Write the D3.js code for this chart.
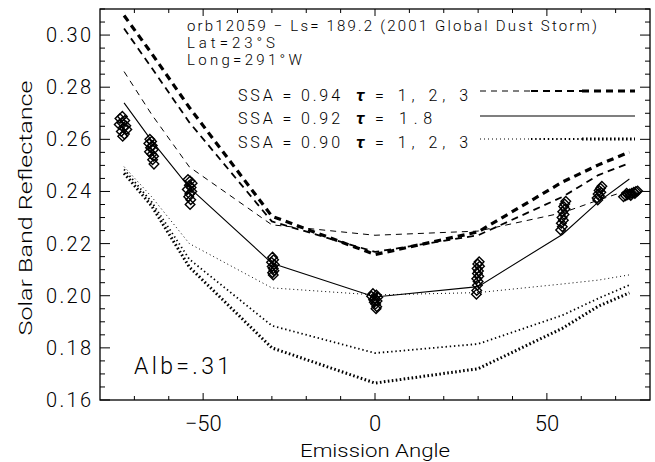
<!DOCTYPE html>
<html>
<head>
<meta charset="utf-8">
<script src="https://cdn.jsdelivr.net/npm/d3@7"></script>
<style>
  html, body { margin: 0; padding: 0; background: #fff; }
  svg { display: block; }
  text { font-family: Roboto, "DejaVu Sans", sans-serif; font-weight: 300; fill: #000; }
</style>
</head>
<body>
<svg id="chart" width="655" height="462"></svg>
<script>
// Emission angles at which the model curves are evaluated
const modelAngles = [-73, -65, -54, -30, 0, 30, 54.5, 65, 74];

// SSA = 0.94, tau = 1, 2, 3 (dashed, increasing weight)
const ssa94Tau1 = [0.2860, 0.2696, 0.2494, 0.2272, 0.2232, 0.2248, 0.2318, 0.2367, 0.2406];
const ssa94Tau2 = [0.3025, 0.2875, 0.2665, 0.2285, 0.2168, 0.2232, 0.2379, 0.2463, 0.2509];
const ssa94Tau3 = [0.3075, 0.2930, 0.2722, 0.2305, 0.2158, 0.2245, 0.2436, 0.2502, 0.2551];

// SSA = 0.92, tau = 1.8 (solid)
const ssa92Tau18 = [0.2740, 0.2595, 0.2415, 0.2125, 0.1995, 0.2035, 0.2235, 0.2360, 0.2448];

// SSA = 0.90, tau = 1, 2, 3 (dotted, increasing weight)
const ssa90Tau1 = [0.2495, 0.2380, 0.2200, 0.2030, 0.2003, 0.2012, 0.2045, 0.2060, 0.2080];
const ssa90Tau2 = [0.2485, 0.2360, 0.2140, 0.1885, 0.1780, 0.1815, 0.1925, 0.1990, 0.2041];
const ssa90Tau3 = [0.2470, 0.2345, 0.2110, 0.1800, 0.1665, 0.1720, 0.1875, 0.1960, 0.2011];

// Observed reflectances: emission angle and value
const obsAngle = [
  -73.5, -74.2, -72.8, -73.6, -74.4, -72.5, -73.2, -72.2, -73.8, -72.9, -73.4,
  -65.5, -65.0, -65.8, -64.8, -65.3, -64.5, -65.6, -64.9, -64.4, -64.7, -64.3,
  -54.4, -53.8, -53.2, -54.0, -53.5, -54.6, -53.3, -53.9, -54.2, -53.6, -53.8,
  -29.8, -29.5, -30.1, -29.3, -29.9, -29.6, -29.4, -29.8, -29.6,
  -0.6, 0.4, -1.0, 0.8, 0.0, -0.4, 0.6, -0.2, 0.2, 0.5, 0.3,
  30.3, 29.9, 30.4, 29.7, 30.1, 29.8, 30.2, 29.6, 30.0, 29.8, 29.6, 29.5,
  55.5, 55.2, 54.9, 55.3, 54.6, 55.0, 54.4, 54.8, 54.2, 54.5, 54.0,
  66.0, 65.6, 65.2, 65.7, 64.9, 65.3, 64.6, 64.8,
  72.3, 72.9, 73.5, 74.1, 74.7, 75.3, 75.9, 76.4, 73.2, 74.4, 75.6
];
const obsValue = [
  0.2688, 0.2680, 0.2672, 0.2664, 0.2657, 0.2652, 0.2645, 0.2638, 0.2630, 0.2620, 0.2612,
  0.2600, 0.2592, 0.2584, 0.2576, 0.2568, 0.2560, 0.2552, 0.2543, 0.2535, 0.2522, 0.2505,
  0.2446, 0.2440, 0.2432, 0.2424, 0.2415, 0.2408, 0.2400, 0.2390, 0.2380, 0.2368, 0.2350,
  0.2148, 0.2138, 0.2128, 0.2120, 0.2112, 0.2104, 0.2096, 0.2088, 0.2080,
  0.2008, 0.2003, 0.1998, 0.1994, 0.1990, 0.1985, 0.1980, 0.1975, 0.1968, 0.1958, 0.1950,
  0.2130, 0.2122, 0.2113, 0.2104, 0.2095, 0.2085, 0.2075, 0.2065, 0.2055, 0.2040, 0.2020, 0.2006,
  0.2362, 0.2352, 0.2342, 0.2333, 0.2322, 0.2312, 0.2300, 0.2290, 0.2278, 0.2265, 0.2252,
  0.2420, 0.2412, 0.2404, 0.2397, 0.2390, 0.2383, 0.2375, 0.2367,
  0.2380, 0.2384, 0.2388, 0.2390, 0.2393, 0.2397, 0.2400, 0.2402, 0.2393, 0.2385, 0.2392
];

// Axis ticks
const xMajorTicks = [-50, 0, 50];
const xMinorTicks = d3.range(-70, 80, 10);
const yMajorTicks = [0.16, 0.18, 0.20, 0.22, 0.24, 0.26, 0.28, 0.30];
const yMinorTicks = d3.range(0.16, 0.3101, 0.005);

// Header and legend text
const headerLines = ["orb12059 \u2212 Ls= 189.2 (2001 Global Dust Storm)", "Lat=23\u00b0S", "Long=291\u00b0W"];
const headerWidths = [410, 88, 115];
const legendSsa = ["SSA = 0.94", "SSA = 0.92", "SSA = 0.90"];
const legendTau = ["= 1, 2, 3", "= 1.8", "= 1, 2, 3"];
const legendTauWidths = [93, 57, 93];
const albedoLabel = "Alb=.31";

const svg = d3.select("#chart");
const W = 655, H = 462;
const mLeft = 100, mRight = 650, mTop = 9, mBottom = 400;

const x = d3.scaleLinear().domain([-80, 80]).range([mLeft, mRight]);
const y = d3.scaleLinear().domain([0.16, 0.31]).range([mBottom, mTop]);

svg.append("rect").attr("width", W).attr("height", H).attr("fill", "#fff");

const plot = svg.append("g");
plot.append("clipPath").attr("id", "clip")
  .append("rect").attr("x", mLeft).attr("y", mTop).attr("width", mRight - mLeft).attr("height", mBottom - mTop);

const line = d3.line().x((d, i) => x(modelAngles[i])).y(d => y(d));

const curves = [
  { v: ssa94Tau1, w: 1.0, dash: "6,5" },
  { v: ssa94Tau2, w: 1.8, dash: "7,5" },
  { v: ssa94Tau3, w: 3.2, dash: "7,5" },
  { v: ssa92Tau18, w: 1.1, dash: null },
  { v: ssa90Tau1, w: 1.0, dash: "1,3" },
  { v: ssa90Tau2, w: 1.8, dash: "1.4,2.8" },
  { v: ssa90Tau3, w: 3.0, dash: "1.6,2.4" }
];

const cg = plot.append("g").attr("clip-path", "url(#clip)");
curves.forEach(c => {
  cg.append("path")
    .attr("d", line(c.v))
    .attr("fill", "none")
    .attr("stroke", "#000")
    .attr("stroke-width", c.w)
    .attr("stroke-dasharray", c.dash);
});

// Observations drawn as open diamonds
const dg = plot.append("g");
obsAngle.forEach((a, i) => {
  const cx = x(a), cy = y(obsValue[i]), r = 4.8;
  dg.append("path")
    .attr("d", `M${cx},${cy - r}L${cx + r},${cy}L${cx},${cy + r}L${cx - r},${cy}Z`)
    .attr("fill", "none")
    .attr("stroke", "#000")
    .attr("stroke-width", 1.4);
});

// Axes: ticks point inward on all four sides
const axes = svg.append("g").attr("stroke", "#000").attr("fill", "none");
axes.append("rect").attr("x", mLeft).attr("y", mTop).attr("width", mRight - mLeft).attr("height", mBottom - mTop).attr("stroke-width", 1.3);

xMinorTicks.forEach(t => {
  const len = xMajorTicks.includes(t) ? 7 : 4;
  axes.append("line").attr("x1", x(t)).attr("x2", x(t)).attr("y1", mBottom).attr("y2", mBottom - len);
  axes.append("line").attr("x1", x(t)).attr("x2", x(t)).attr("y1", mTop).attr("y2", mTop + len);
});
yMinorTicks.forEach(t => {
  const major = yMajorTicks.some(m => Math.abs(m - t) < 1e-6);
  const len = major ? 10 : 5;
  axes.append("line").attr("y1", y(t)).attr("y2", y(t)).attr("x1", mLeft).attr("x2", mLeft + len);
  axes.append("line").attr("y1", y(t)).attr("y2", y(t)).attr("x1", mRight).attr("x2", mRight - len);
});

// Tick labels
svg.append("g").selectAll("text").data(xMajorTicks).join("text")
  .attr("x", d => x(d)).attr("y", 431)
  .attr("text-anchor", "middle").attr("font-size", 22)
  .text(d => d < 0 ? "\u2212" + Math.abs(d) : d);

svg.append("g").selectAll("text").data(yMajorTicks).join("text")
  .attr("x", 91).attr("y", d => y(d) + 7)
  .attr("text-anchor", "end").attr("font-size", 20)
  .attr("textLength", 45).attr("lengthAdjust", "spacing")
  .text(d => d.toFixed(2));

// Axis titles
svg.append("text").attr("x", 375).attr("y", 457).attr("text-anchor", "middle")
  .attr("font-size", 19).attr("textLength", 150).attr("lengthAdjust", "spacingAndGlyphs")
  .text("Emission Angle");
svg.append("text").attr("transform", "translate(32,208) rotate(-90)").attr("text-anchor", "middle")
  .attr("font-size", 19).attr("textLength", 255).attr("lengthAdjust", "spacingAndGlyphs")
  .text("Solar Band Reflectance");

// Header
headerLines.forEach((s, i) => {
  svg.append("text").attr("x", 187).attr("y", 31 + i * 17)
    .attr("font-size", 15).attr("textLength", headerWidths[i]).attr("lengthAdjust", "spacing")
    .text(s);
});

// Legend
const legY = [101, 124, 148];
const lineY = [91, 116, 139];
legendSsa.forEach((s, i) => {
  svg.append("text").attr("x", 238).attr("y", legY[i]).attr("font-size", 16)
    .attr("textLength", 102).attr("lengthAdjust", "spacing").text(s);
  svg.append("text").attr("x", 356).attr("y", legY[i]).attr("font-size", 17)
    .style("font-style", "italic").style("font-weight", "700").text("\u03c4");
  svg.append("text").attr("x", 375).attr("y", legY[i]).attr("font-size", 16)
    .attr("textLength", legendTauWidths[i]).attr("lengthAdjust", "spacing").text(legendTau[i]);
});

const segX = [480, 531, 582, 635];
[ssa94Tau1, ssa94Tau2, ssa94Tau3].forEach((s, k) => {
  const c = curves[k];
  svg.append("line").attr("x1", segX[k]).attr("x2", segX[k + 1]).attr("y1", lineY[0]).attr("y2", lineY[0])
    .attr("stroke", "#000").attr("stroke-width", c.w).attr("stroke-dasharray", c.dash);
});
svg.append("line").attr("x1", segX[0]).attr("x2", segX[3]).attr("y1", lineY[1]).attr("y2", lineY[1])
  .attr("stroke", "#000").attr("stroke-width", 1.1);
[ssa90Tau1, ssa90Tau2, ssa90Tau3].forEach((s, k) => {
  const c = curves[k + 4];
  svg.append("line").attr("x1", segX[k]).attr("x2", segX[k + 1]).attr("y1", lineY[2]).attr("y2", lineY[2])
    .attr("stroke", "#000").attr("stroke-width", c.w).attr("stroke-dasharray", c.dash);
});

svg.append("text").attr("x", 134).attr("y", 374).attr("font-size", 23)
  .attr("textLength", 96).attr("lengthAdjust", "spacing").text(albedoLabel);
</script>
</body>
</html>
